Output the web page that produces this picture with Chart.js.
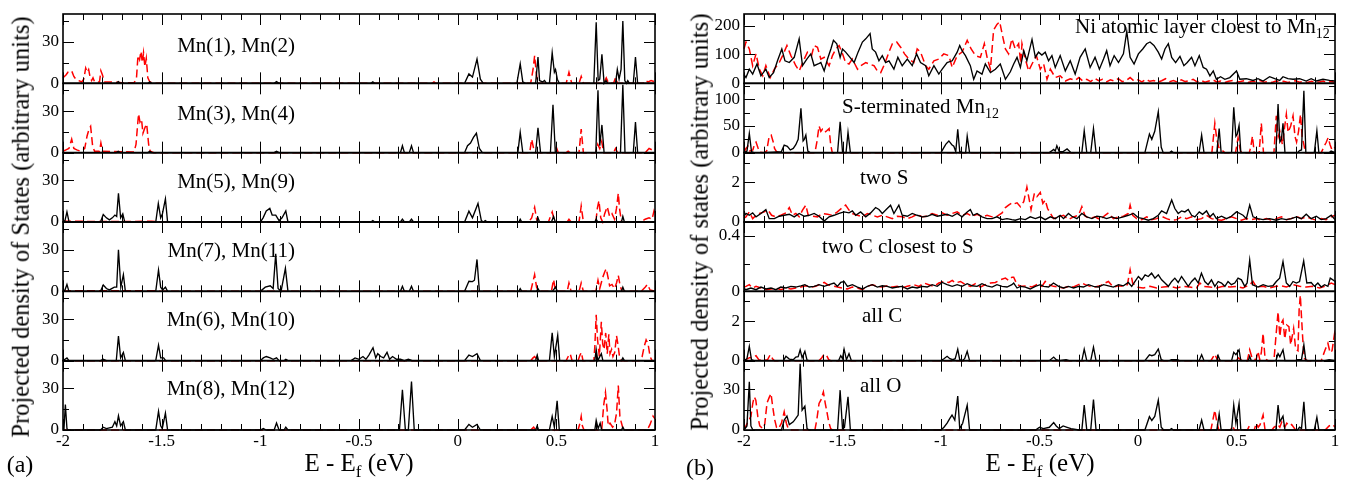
<!DOCTYPE html>
<html><head><meta charset="utf-8">
<script src="https://cdn.jsdelivr.net/npm/chart.js@4.4.1/dist/chart.umd.min.js"></script>
<style>
html,body{margin:0;padding:0;background:#fff}
body{width:1348px;height:480px;position:relative;overflow:hidden;font-family:'Liberation Serif','Tinos','Times New Roman','DejaVu Serif',serif;color:#000}
canvas{position:absolute;top:0}
#ca{left:0}
#cb{left:680px}
.t{position:absolute;white-space:nowrap;line-height:1;font-size:21px}
.t sub{font-size:14px;vertical-align:-5px;line-height:0}
.ra{transform:translate(-100%,-50%)}
.la{transform:translate(0,-50%)}
.ce{transform:translate(-50%,-50%)}
.rot{transform:translate(-50%,-50%) rotate(-90deg);font-size:24.5px}
.xt{font-size:25px}
.xt sub{font-size:17px;vertical-align:-6px}
</style></head><body>
<canvas id="ca" width="670" height="480"></canvas>
<canvas id="cb" width="668" height="480"></canvas>

<div class="t ra" style="left:295px;top:45px">Mn(1), Mn(2)</div>
<div class="t ra" style="left:295px;top:113px">Mn(3), Mn(4)</div>
<div class="t ra" style="left:295px;top:181px">Mn(5), Mn(9)</div>
<div class="t ra" style="left:295px;top:250px">Mn(7), Mn(11)</div>
<div class="t ra" style="left:295px;top:319px">Mn(6), Mn(10)</div>
<div class="t ra" style="left:295px;top:388px">Mn(8), Mn(12)</div>

<div class="t la" style="left:1075px;top:26px">Ni atomic layer cloest to Mn<sub>12</sub></div>
<div class="t la" style="left:842px;top:106px">S-terminated Mn<sub>12</sub></div>
<div class="t la" style="left:860px;top:177px">two S</div>
<div class="t la" style="left:822px;top:246px">two C closest to S</div>
<div class="t la" style="left:862px;top:315px">all C</div>
<div class="t la" style="left:860px;top:385px">all O</div>

<div class="t rot" style="left:21px;top:227px">Projected density of States (arbitrary units)</div>
<div class="t rot" style="left:700px;top:222px">Projected density of states (arbitrary units)</div>
<div class="t ce xt" style="left:359px;top:462px">E - E<sub>f</sub> (eV)</div>
<div class="t ce xt" style="left:1040px;top:462px">E - E<sub>f</sub> (eV)</div>
<div class="t ce" style="left:20px;top:464px;font-size:24px">(a)</div>
<div class="t ce" style="left:700px;top:467px;font-size:24px">(b)</div>

<script>
// ---------- tick labels ----------
const xTickLabels = [-2, -1.5, -1, -0.5, 0, 0.5, 1];
const mnTicksMajor = [0, 30], mnTicksMinor = [15, 45];
const niTicksMajor = [0, 100, 200], niTicksMinor = [50, 150];
const sTicksMajor = [0, 50, 100], sTicksMinor = [25, 75, 125];
const twoSTicksMajor = [0, 2], twoSTicksMinor = [1, 3];
const twoCTicksMajor = [0, 0.4], twoCTicksMinor = [0.2];
const allCTicksMajor = [0, 2], allCTicksMinor = [1, 3];
const allOTicksMajor = [0, 30], allOTicksMinor = [15, 45];

// ---------- panel (a) series: [E, PDOS] ----------
const a1Black = [[-2,0],[-1.73,0],[-1.72,1.2],[-1.71,0],[-1.57,0],[-1.56,1],[-1.55,0],[-0.93,0],[-0.918,1.2],[-0.905,0],[-0.44,0],[-0.43,1],[-0.42,0],
[0.035,0],[0.057,6.8],[0.075,4.5],[0.098,17.5],[0.115,3],[0.13,0],[0.30,0],[0.317,14],[0.33,1],[0.345,0],
[0.395,0],[0.407,19],[0.415,2],[0.43,1],[0.44,2],[0.45,0],[0.465,0],[0.479,22],[0.49,8],[0.496,10],[0.505,3],[0.515,0],
[0.69,0],[0.702,44],[0.712,2],[0.72,3],[0.731,21],[0.742,0],[0.752,2],[0.76,0],[0.80,0],[0.809,10],[0.818,3],[0.828,10],[0.837,45],[0.847,2],[0.855,0],[0.862,2],[0.87,0],
[0.89,0],[0.901,19],[0.912,0],[1,0]];
const a1Red = [[-2,4],[-1.985,6],[-1.975,8],[-1.956,9],[-1.945,5],[-1.935,3],[-1.92,2],[-1.905,1],[-1.895,3],[-1.885,11],[-1.877,8],[-1.87,10],[-1.862,4],[-1.855,2],[-1.848,4],[-1.84,1],[-1.815,1],[-1.808,9],[-1.8,6],[-1.79,1],[-1.75,1],[-1.70,0.5],[-1.64,0.5],[-1.628,3],[-1.62,20],[-1.612,17],[-1.605,23],[-1.598,15],[-1.592,22],[-1.585,12],[-1.578,18],[-1.57,4],[-1.56,1],[-1.53,0],[-0.13,0],[-0.12,1],[-0.11,0],
[0.37,0],[0.382,10],[0.39,20],[0.398,8],[0.405,0],[0.55,0],[0.564,8],[0.578,0],[0.615,0],[0.626,5],[0.637,0],[0.74,0],[0.753,4],[0.765,0],[0.79,0],[0.80,4],[0.81,0],[0.895,0],[0.905,2],[0.915,0],[0.94,0],[0.95,2],[0.965,1],[0.98,2],[1,1]];

const a2Black = [[-2,0],[-1.73,0],[-1.72,1],[-1.71,0],[-1.57,0],[-1.56,1],[-1.55,0],[-0.93,0],[-0.918,1],[-0.905,0],
[-0.29,0],[-0.28,5],[-0.27,0],[-0.245,0],[-0.234,5],[-0.224,0],
[0.035,0],[0.05,5],[0.065,7],[0.08,11],[0.095,14],[0.11,3],[0.125,0],
[0.305,0],[0.317,14.6],[0.33,0],[0.395,0],[0.407,18],[0.42,0],[0.47,0],[0.483,34.6],[0.495,0],
[0.70,0],[0.711,45],[0.72,5],[0.731,20],[0.742,0],[0.825,0],[0.837,49],[0.848,0],[0.89,0],[0.901,22],[0.912,0],[1,0]];
const a2Red = [[-2,1],[-1.985,2],[-1.97,3],[-1.956,9.7],[-1.945,3],[-1.93,2],[-1.91,1],[-1.89,3],[-1.878,12],[-1.868,17],[-1.86,19],[-1.85,5],[-1.84,1],[-1.815,1],[-1.808,7],[-1.8,1],[-1.64,0.5],[-1.63,6],[-1.622,20],[-1.617,28],[-1.61,22],[-1.602,24],[-1.595,14],[-1.585,18],[-1.576,20.7],[-1.566,6],[-1.558,1],[-1.54,0],
[0.365,0],[0.375,9.7],[0.385,3],[0.395,0],[0.49,0],[0.5,4],[0.51,0],[0.55,0],[0.56,1],[0.57,0],[0.615,0],[0.626,17],[0.637,0],[0.70,0],[0.71,6],[0.72,3],[0.73,8],[0.74,0],[0.79,0],[0.80,3],[0.81,0],[0.95,0],[0.97,3],[1,1]];

const a3Black = [[-2,0],[-1.99,1],[-1.98,7.3],[-1.97,0.5],[-1.96,0],[-1.81,0],[-1.796,5.4],[-1.78,3],[-1.765,1.5],[-1.75,3],[-1.737,5],[-1.728,4],[-1.719,20.7],[-1.708,3],[-1.697,5.8],[-1.688,0.5],[-1.678,0],
[-1.53,0],[-1.517,13.4],[-1.505,3],[-1.496,6],[-1.481,16.6],[-1.47,0],
[-1.0,0],[-0.986,3],[-0.97,8],[-0.952,9.8],[-0.94,5],[-0.922,5],[-0.905,1],[-0.89,3],[-0.871,8],[-0.86,0],
[-0.44,0],[-0.43,1],[-0.42,0],[-0.29,0],[-0.28,2],[-0.27,0],[-0.245,0],[-0.234,2],[-0.224,0],
[0.035,0],[0.057,7.8],[0.075,3],[0.103,13.4],[0.12,1],[0.13,0],[0.14,1],[0.15,0],
[0.31,0],[0.317,2],[0.325,0],[0.4,0],[0.407,3],[0.415,0],[0.475,0],[0.486,4],[0.495,0],[0.695,0],[0.702,2],[0.71,0],[0.83,0],[0.837,4],[0.845,0],[1,0]];
const a3Red = [[-2,0.5],[-1.9,0.5],[-1.85,0.3],[-1.55,0.5],[-1.5,0],[0.36,0],[0.375,3],[0.39,10.5],[0.40,2],[0.41,0],
[0.46,0],[0.47,4],[0.479,7.3],[0.49,1],[0.5,0],[0.555,0],[0.564,2],[0.575,0],[0.615,0],[0.626,11.5],[0.637,0],
[0.70,0],[0.708,10],[0.716,15.4],[0.725,3],[0.735,0],[0.745,6],[0.758,11],[0.77,4],[0.782,6],[0.795,2],[0.805,10],[0.814,20.7],[0.82,10],[0.83,0],
[0.93,0],[0.95,2],[0.97,3],[0.985,2],[0.995,8],[1,6]];

const a4Black = [[-2,0],[-1.99,1],[-1.98,5],[-1.97,0],
[-1.81,0],[-1.796,4.6],[-1.78,2],[-1.765,1],[-1.74,3],[-1.728,3],[-1.719,30],[-1.707,3],[-1.694,12],[-1.684,0],
[-1.53,0],[-1.516,15.4],[-1.505,3],[-1.495,1],[-1.481,3],[-1.47,0],
[-1.0,0],[-0.975,3],[-0.95,4],[-0.935,2],[-0.922,27],[-0.91,2],[-0.895,0],[-0.873,16.6],[-0.86,0],
[-0.29,0],[-0.28,3.6],[-0.27,0],[-0.245,0],[-0.234,3.6],[-0.224,0],
[0.035,0],[0.057,7.3],[0.075,7],[0.085,8],[0.098,23],[0.11,0],
[0.31,0],[0.317,2],[0.325,0],[0.4,0],[0.407,2],[0.415,0],[0.48,0],[0.496,3],[0.505,0],[0.83,0],[0.837,3],[0.845,0],[1,0]];
const a4Red = [[-2,0],[-1.96,0.5],[-1.90,0.5],[-1.6,0.5],[-1.55,0.5],[-1.5,0],
[0.37,0],[0.39,12],[0.40,3],[0.41,0],[0.475,0],[0.486,8.5],[0.495,1],[0.505,0],
[0.555,0],[0.564,6],[0.575,0],[0.615,0],[0.626,6],[0.637,0],
[0.70,0],[0.711,8],[0.72,2],[0.735,10],[0.745,14],[0.753,16.3],[0.762,10],[0.77,4],[0.782,5],[0.795,2],[0.805,6],[0.814,11.5],[0.822,5],[0.832,0],
[0.93,0],[0.95,3],[0.962,5],[0.975,1],[1,0]];

const a5Black = [[-2,0],[-1.99,1],[-1.98,2],[-1.97,0],
[-1.81,0],[-1.796,1],[-1.78,0],[-1.73,0],[-1.719,17.8],[-1.708,2],[-1.694,6],[-1.684,0],
[-1.53,0],[-1.516,11.2],[-1.505,2],[-1.49,2],[-1.48,0],
[-1.0,0],[-0.985,2],[-0.97,3],[-0.95,2],[-0.935,1],[-0.918,2],[-0.905,0],[-0.88,0],[-0.871,1],[-0.86,0],
[-0.54,0],[-0.52,2],[-0.5,1],[-0.48,3],[-0.465,1],[-0.45,4],[-0.429,9.3],[-0.415,2],[-0.405,5],[-0.39,3],[-0.375,2],[-0.358,6],[-0.345,1],[-0.33,3],[-0.31,1],[-0.29,1],[-0.27,0],[-0.25,1],[-0.23,0],
[0.035,0],[0.057,4],[0.075,3],[0.098,5],[0.115,0],
[0.395,0],[0.403,4],[0.41,0],[0.465,0],[0.479,20],[0.49,3],[0.507,18.3],[0.517,0],
[0.695,0],[0.702,8],[0.71,0],[0.728,5],[0.736,0],[0.83,0],[0.837,2],[0.845,0],[1,0]];
const a5Red = [[-2,0],[0.37,0],[0.382,2],[0.39,3],[0.40,1],[0.41,0],[0.55,0],[0.56,3],[0.57,5],[0.58,0],
[0.61,0],[0.62,4],[0.627,6],[0.635,0],[0.69,0],[0.695,10],[0.702,33],[0.709,15],[0.718,3],[0.728,28],[0.735,12],[0.742,8],[0.75,20],[0.758,5],[0.766,19],[0.772,5],[0.78,8],[0.787,3],[0.796,6],[0.805,18],[0.812,12],[0.82,3],[0.828,0],
[0.92,0],[0.935,3],[0.945,10],[0.955,15],[0.965,12],[0.975,3],[0.985,0],[1,0]];

const a6Black = [[-2,0],[-1.995,1],[-1.988,18.3],[-1.98,1],[-1.975,0],
[-1.81,0],[-1.796,2],[-1.78,1],[-1.75,2],[-1.737,6],[-1.728,3],[-1.719,10.2],[-1.708,3],[-1.694,6],[-1.684,0],
[-1.53,0],[-1.516,13.4],[-1.505,3],[-1.497,1],[-1.481,12.2],[-1.47,0],
[-1.0,0],[-0.985,1],[-0.97,0],[-0.93,0],[-0.918,5],[-0.905,0],[-0.88,0],[-0.871,2],[-0.86,0],
[-0.295,0],[-0.28,29],[-0.265,0],[-0.25,0],[-0.234,35],[-0.22,0],
[0.035,0],[0.057,4],[0.075,2],[0.098,4],[0.115,0],
[0.395,0],[0.403,3],[0.41,0],[0.465,0],[0.479,9.8],[0.49,2],[0.504,21],[0.515,0],
[0.695,0],[0.702,7],[0.712,1],[0.722,5],[0.73,0],[0.83,0],[0.837,2],[0.845,0],[1,0]];
const a6Red = [[-2,0],[0.37,0],[0.385,2],[0.395,0],[0.61,0],[0.62,5],[0.626,9.8],[0.632,3],[0.64,0],
[0.73,0],[0.74,18],[0.749,27],[0.757,15],[0.763,3],[0.772,5],[0.785,2],[0.795,4],[0.805,12],[0.814,32],[0.822,10],[0.83,5],[0.84,0],
[0.96,0],[0.975,4],[0.99,10],[1,8]];

// ---------- panel (b) series ----------
const b1Black = [[-2,30],[-1.990,20],[-1.973,49],[-1.956,32],[-1.934,67],[-1.914,26],[-1.889,49],[-1.872,20],[-1.850,37],[-1.830,78],[-1.808,119],[-1.792,78],[-1.770,72],[-1.745,90],[-1.720,154],[-1.703,61],[-1.681,84],[-1.661,102],[-1.644,61],[-1.624,67],[-1.610,72],[-1.593,43],[-1.576,84],[-1.559,119],[-1.546,149],[-1.529,137],[-1.512,90],[-1.500,119],[-1.484,108],[-1.462,90],[-1.441,72],[-1.421,108],[-1.399,143],[-1.382,154],[-1.360,172],[-1.349,119],[-1.332,108],[-1.315,78],[-1.298,96],[-1.281,72],[-1.264,78],[-1.239,49],[-1.219,90],[-1.197,61],[-1.171,84],[-1.146,61],[-1.124,102],[-1.104,72],[-1.078,61],[-1.062,26],[-1.036,61],[-1.011,32],[-0.994,49],[-0.969,72],[-0.943,78],[-0.918,108],[-0.905,131],[-0.893,113],[-0.876,96],[-0.851,61],[-0.834,14],[-0.817,43],[-0.792,32],[-0.775,67],[-0.749,37],[-0.724,49],[-0.699,67],[-0.673,14],[-0.648,40],
[-0.631,67],[-0.614,90],[-0.597,55],[-0.580,113],[-0.564,78],[-0.538,152],[-0.521,90],[-0.505,108],[-0.488,98],[-0.471,108],[-0.454,78],[-0.437,96],[-0.420,55],[-0.395,96],[-0.369,43],[-0.344,78],[-0.319,32],[-0.294,90],[-0.268,119],[-0.243,55],[-0.218,90],[-0.196,49],[-0.175,84],[-0.159,113],[-0.142,61],[-0.121,96],[-0.099,72],[-0.074,102],[-0.057,180],[-0.040,90],[-0.020,67],[0.002,102],[0.024,119],[0.044,137],[0.061,143],[0.081,131],[0.103,108],[0.120,84],[0.137,119],[0.154,137],[0.171,90],[0.191,72],[0.213,93],[0.233,61],[0.250,72],[0.272,90],[0.289,61],[0.311,96],[0.331,55],[0.348,49],[0.365,26],[0.382,43],[0.398,14],[0.419,23],[0.441,14],[0.466,20],[0.500,43],[0.517,14],[0.550,16],[0.584,10],[0.609,16],[0.635,8],[0.668,23],[0.694,16],[0.719,10],[0.736,23],[0.761,16],[0.787,14],[0.820,16],[0.854,8],[0.879,16],[0.905,8],[0.939,14],[0.972,10],[1,8]];
const b1Red = [[-2,120],[-1.990,143],[-1.973,119],[-1.956,61],[-1.939,102],[-1.922,49],[-1.905,26],[-1.889,61],[-1.867,20],[-1.846,49],[-1.821,72],[-1.804,96],[-1.782,131],[-1.762,96],[-1.737,61],[-1.720,43],[-1.698,78],[-1.678,108],[-1.657,96],[-1.644,131],[-1.627,125],[-1.610,84],[-1.593,90],[-1.568,61],[-1.551,96],[-1.534,119],[-1.517,131],[-1.500,102],[-1.484,72],[-1.467,67],[-1.450,84],[-1.424,49],[-1.408,61],[-1.382,72],[-1.365,67],[-1.340,61],[-1.323,43],[-1.306,37],[-1.286,67],[-1.264,108],[-1.247,137],[-1.225,143],[-1.205,125],[-1.185,102],[-1.163,84],[-1.138,72],[-1.121,119],[-1.104,108],[-1.078,61],[-1.062,49],[-1.036,78],[-1.011,84],[-0.986,102],[-0.960,96],[-0.943,55],[-0.918,96],[-0.893,108],[-0.867,149],[-0.847,119],[-0.825,96],[-0.800,90],[-0.780,137],[-0.766,90],[-0.749,49],[-0.733,184],[-0.716,204],[-0.702,213],[-0.690,172],[-0.673,119],[-0.657,102],[-0.640,154],[-0.623,119],[-0.606,137],
[-0.595,70],[-0.589,137],[-0.572,84],[-0.555,43],[-0.538,67],[-0.516,96],[-0.496,49],[-0.479,67],[-0.462,14],[-0.445,49],[-0.420,20],[-0.395,26],[-0.369,8],[-0.344,16],[-0.32,10],[-0.3,20],[-0.28,8],[-0.26,14],[-0.24,6],[-0.22,18],[-0.2,9],[-0.18,14],[-0.16,5],[-0.14,12],[-0.12,8],[-0.1,16],[-0.08,6],[-0.06,10],[-0.04,20],[-0.02,8],[0,12],[0.02,5],[0.04,14],[0.06,7],[0.08,10],[0.1,4],[0.12,9],[0.14,16],[0.16,6],[0.18,10],[0.2,4],[0.22,12],[0.24,6],[0.26,9],[0.28,14],[0.3,5],[0.32,10],[0.34,4],[0.36,8],[0.38,12],[0.4,5],[0.42,8],[0.44,3],[0.46,7],[0.48,10],[0.5,4],[0.52,6],[0.54,9],[0.56,3],[0.58,7],[0.6,5],[0.62,10],[0.64,4],[0.66,6],[0.68,3],[0.7,8],[0.72,5],[0.74,7],[0.76,3],[0.78,6],[0.8,9],[0.82,4],[0.84,6],[0.86,3],[0.88,7],[0.9,4],[0.92,5],[0.94,8],[0.96,3],[0.98,6],[1,4]];

const b2Black = [[-2,0],[-1.985,3],[-1.973,36],[-1.962,2],[-1.95,0],[-1.90,0],[-1.85,1],[-1.81,2],[-1.796,14],[-1.78,12],[-1.765,5],[-1.75,8],[-1.737,15],[-1.725,25],[-1.711,83],[-1.70,22],[-1.694,25],[-1.686,33],[-1.676,3],[-1.665,0],
[-1.525,0],[-1.512,58],[-1.5,2],[-1.49,0],[-1.482,0],[-1.472,38],[-1.46,0],
[-1.0,0],[-0.985,10],[-0.975,16],[-0.96,22],[-0.945,15],[-0.935,12],[-0.925,2],[-0.915,44],[-0.905,2],[-0.89,0],[-0.875,0],[-0.867,31],[-0.855,0],
[-0.45,0],[-0.428,6],[-0.42,3],[-0.412,13],[-0.40,2],[-0.38,2],[-0.36,7],[-0.34,0],
[-0.285,0],[-0.273,41],[-0.26,0],[-0.24,0],[-0.226,45],[-0.213,0],
[0.035,0],[0.058,35],[0.07,25],[0.085,40],[0.103,77],[0.118,10],[0.128,0],[0.16,0],[0.17,3],[0.18,0],
[0.31,0],[0.323,33],[0.335,0],[0.40,0],[0.412,45],[0.422,0],[0.475,0],[0.486,85],[0.497,31],[0.504,35],[0.513,51],[0.522,0],
[0.70,0],[0.711,91],[0.72,20],[0.728,25],[0.736,55],[0.746,0],[0.81,0],[0.82,4],[0.83,5],[0.842,116],[0.852,0],[0.895,0],[0.908,41],[0.918,0],[0.97,0],[0.98,3],[1,0]];
const b2Red = [[-2,0],[-1.99,8],[-1.98,12],[-1.97,3],[-1.955,5],[-1.945,18],[-1.939,20],[-1.93,10],[-1.92,1],[-1.9,0],[-1.885,3],[-1.872,31],[-1.862,33],[-1.85,18],[-1.845,8],[-1.835,2],[-1.82,0],
[-1.64,0],[-1.63,20],[-1.619,50],[-1.61,40],[-1.602,44],[-1.59,38],[-1.58,41],[-1.568,45],[-1.56,15],[-1.552,0],
[0.375,0],[0.39,55],[0.40,25],[0.41,10],[0.425,5],[0.44,0],[0.495,0],[0.508,28],[0.52,3],[0.53,0],[0.565,0],[0.572,10],[0.581,31],[0.59,0],[0.615,0],[0.626,55],[0.637,0],
[0.69,0],[0.702,69],[0.712,30],[0.72,40],[0.733,15],[0.745,50],[0.753,72],[0.762,38],[0.775,50],[0.787,69],[0.797,30],[0.805,20],[0.815,40],[0.825,72],[0.833,30],[0.842,15],[0.85,0],
[0.93,0],[0.945,12],[0.955,19],[0.965,28],[0.975,15],[0.985,5],[1,10]];

const b3Black = [[-2,0.3],[-1.990,0.43],[-1.973,0.34],[-1.956,0.46],[-1.939,0.26],[-1.914,0.43],[-1.889,0.63],[-1.872,0.17],[-1.846,0.17],[-1.821,0.29],[-1.796,0.34],[-1.770,0.39],[-1.745,0.26],[-1.720,0.43],[-1.694,0.29],[-1.669,0.34],[-1.644,0.43],[-1.619,0.29],[-1.593,0.05],[-1.568,0.26],[-1.543,0.34],[-1.517,0.43],[-1.492,0.51],[-1.467,0.46],[-1.450,0.56],[-1.433,0.34],[-1.408,0.51],[-1.382,0.26],[-1.357,0.46],[-1.332,0.73],[-1.315,0.63],[-1.298,0.43],[-1.273,0.68],[-1.256,0.85],[-1.239,0.43],[-1.214,0.85],[-1.197,0.34],[-1.171,0.29],[-1.146,0.43],[-1.121,0.34],[-1.095,0.26],[-1.070,0.29],[-1.045,0.39],[-1.019,0.29],[-0.994,0.34],[-0.969,0.39],[-0.943,0.29],[-0.918,0.43],[-0.893,0.26],[-0.867,0.51],[-0.851,0.63],[-0.837,0.34],[-0.817,0.43],[-0.792,0.26],[-0.766,0.17],[-0.741,0.17],[-0.716,0.26],[-0.690,0.12],[-0.665,0.17],[-0.640,0.12],
[-0.623,0.09],[-0.597,0.17],[-0.572,0.12],[-0.547,0.26],[-0.521,0.17],[-0.496,0.26],[-0.471,0.12],[-0.445,0.26],[-0.420,0.17],[-0.395,0.34],[-0.378,0.17],[-0.353,0.43],[-0.336,0.29],[-0.310,0.17],[-0.285,0.43],[-0.260,0.26],[-0.234,0.17],[-0.209,0.29],[-0.184,0.26],[-0.159,0.17],[-0.133,0.26],[-0.108,0.17],[-0.074,0.26],[-0.049,0.34],[-0.023,0.43],[0.002,0.22],[0.027,0.17],[0.052,0.09],[0.078,0.17],[0.103,0.34],[0.120,0.56],[0.145,0.43],[0.171,1.11],[0.187,0.68],[0.204,0.43],[0.221,0.56],[0.238,0.51],[0.255,0.63],[0.272,0.34],[0.289,0.26],[0.311,0.51],[0.328,0.39],[0.348,0.56],[0.365,0.26],[0.382,0.43],[0.398,0.17],[0.424,0.29],[0.449,0.17],[0.474,0.29],[0.500,0.51],[0.517,0.43],[0.533,0.34],[0.550,0.17],[0.567,0.85],[0.584,0.26],[0.609,0.17],[0.635,0.12],[0.668,0.17],[0.702,0.09],[0.728,0.17],[0.753,0.12],[0.778,0.17],[0.804,0.26],[0.829,0.17],[0.854,0.39],[0.879,0.17],[0.905,0.29],[0.930,0.12],[0.955,0.17],[0.981,0.34],[1,0.12]];
const b3Red = [[-2,0.2],[-1.990,0.26],[-1.973,0.51],[-1.956,0.17],[-1.939,0.34],[-1.922,0.43],[-1.897,0.51],[-1.880,0.63],[-1.860,0.34],[-1.838,0.26],[-1.813,0.34],[-1.787,0.46],[-1.770,0.73],[-1.754,0.34],[-1.737,0.43],[-1.720,0.26],[-1.703,0.60],[-1.686,0.85],[-1.674,0.34],[-1.652,0.29],[-1.627,0.26],[-1.602,0.43],[-1.576,0.39],[-1.551,0.34],[-1.526,0.51],[-1.500,0.73],[-1.484,0.85],[-1.467,0.60],[-1.450,0.43],[-1.424,0.34],[-1.399,0.26],[-1.374,0.43],[-1.349,0.34],[-1.323,0.26],[-1.298,0.34],[-1.273,0.26],[-1.247,0.17],[-1.222,0.29],[-1.197,0.26],[-1.171,0.17],[-1.146,0.26],[-1.121,0.39],[-1.095,0.26],[-1.070,0.29],[-1.045,0.43],[-1.019,0.34],[-0.994,0.46],[-0.969,0.34],[-0.943,0.43],[-0.918,0.51],[-0.893,0.34],[-0.867,0.43],[-0.842,0.29],[-0.817,0.39],[-0.792,0.26],[-0.766,0.34],[-0.741,0.26],[-0.716,0.29],[-0.690,0.46],[-0.673,0.73],[-0.657,0.85],[-0.640,0.97],
[-0.631,0.91],[-0.614,0.97],[-0.597,0.77],[-0.580,1.03],[-0.564,1.76],[-0.555,1.28],[-0.543,0.63],[-0.526,1.45],[-0.513,1.28],[-0.496,1.49],[-0.483,0.94],[-0.471,1.11],[-0.459,0.68],[-0.449,0.51],[-0.429,0.17],[-0.403,0.26],[-0.378,0.34],[-0.353,0.12],[-0.327,0.26],[-0.302,0.34],[-0.285,0.77],[-0.268,0.29],[-0.243,0.17],[-0.218,0.26],[-0.192,0.12],[-0.167,0.34],[-0.150,0.46],[-0.125,0.17],[-0.099,0.26],[-0.074,0.29],[-0.049,0.43],[-0.040,0.85],[-0.027,0.34],[-0.007,0.17],[0.019,0.12],[0.044,0.26],[0.069,0.12],[0.095,0.17],[0.120,0.29],[0.145,0.17],[0.171,0.09],[0.196,0.12],[0.221,0.26],[0.247,0.17],[0.272,0.26],[0.297,0.12],[0.323,0.17],[0.348,0.34],[0.373,0.17],[0.398,0.12],[0.424,0.09],[0.449,0.17],[0.474,0.26],[0.500,0.17],[0.525,0.09],[0.550,0.17],[0.576,0.12],[0.601,0.17],[0.626,0.09],[0.652,0.17],[0.677,0.09],[0.702,0.17],[0.728,0.26],[0.753,0.12],[0.778,0.17],[0.804,0.29],[0.829,0.17],[0.854,0.26],[0.879,0.17],[0.905,0.09],[0.930,0.17],[0.955,0.12],[0.981,0.26],[1,0.34]];

const b4Black = [[-2,0.02],[-1.990,0.012],[-1.965,0.024],[-1.939,0.012],[-1.914,0.031],[-1.889,0.017],[-1.863,0.024],[-1.838,0.012],[-1.813,0.031],[-1.787,0.024],[-1.762,0.036],[-1.737,0.031],[-1.711,0.040],[-1.691,0.048],[-1.669,0.031],[-1.644,0.036],[-1.619,0.048],[-1.593,0.036],[-1.568,0.048],[-1.543,0.060],[-1.526,0.036],[-1.509,0.064],[-1.492,0.071],[-1.475,0.036],[-1.450,0.048],[-1.424,0.031],[-1.399,0.017],[-1.374,0.036],[-1.349,0.048],[-1.323,0.031],[-1.298,0.040],[-1.273,0.036],[-1.247,0.024],[-1.222,0.031],[-1.197,0.036],[-1.171,0.017],[-1.146,0.031],[-1.121,0.024],[-1.095,0.036],[-1.070,0.031],[-1.045,0.048],[-1.019,0.036],[-0.994,0.064],[-0.969,0.048],[-0.943,0.036],[-0.918,0.048],[-0.893,0.036],[-0.867,0.055],[-0.842,0.040],[-0.817,0.036],[-0.792,0.055],[-0.766,0.040],[-0.741,0.031],[-0.716,0.048],[-0.690,0.036],[-0.665,0.031],[-0.640,0.048],
[-0.631,0.060],[-0.614,0.024],[-0.597,0.036],[-0.572,0.031],[-0.547,0.017],[-0.521,0.036],[-0.496,0.048],[-0.479,0.036],[-0.454,0.031],[-0.429,0.060],[-0.403,0.036],[-0.378,0.024],[-0.353,0.036],[-0.327,0.024],[-0.302,0.036],[-0.277,0.031],[-0.251,0.048],[-0.226,0.036],[-0.201,0.031],[-0.175,0.048],[-0.150,0.040],[-0.125,0.031],[-0.099,0.048],[-0.074,0.040],[-0.049,0.064],[-0.032,0.036],[-0.015,0.071],[0.002,0.107],[0.019,0.083],[0.036,0.119],[0.052,0.107],[0.069,0.131],[0.086,0.095],[0.103,0.119],[0.120,0.083],[0.137,0.060],[0.154,0.036],[0.171,0.071],[0.187,0.095],[0.204,0.064],[0.221,0.107],[0.238,0.071],[0.255,0.036],[0.272,0.071],[0.289,0.095],[0.306,0.060],[0.322,0.131],[0.339,0.071],[0.356,0.048],[0.373,0.083],[0.390,0.036],[0.407,0.071],[0.424,0.060],[0.441,0.036],[0.457,0.071],[0.474,0.048],[0.491,0.060],[0.508,0.095],[0.525,0.083],[0.542,0.036],[0.554,0.060],[0.567,0.226],[0.581,0.048],[0.609,0.031],[0.635,0.048],[0.660,0.036],[0.685,0.040],[0.702,0.071],[0.719,0.095],[0.736,0.214],[0.753,0.060],[0.770,0.036],[0.787,0.071],[0.804,0.060],[0.820,0.071],[0.841,0.219],[0.857,0.060],[0.879,0.064],[0.896,0.036],[0.913,0.060],[0.930,0.031],[0.947,0.048],[0.964,0.036],[0.976,0.095],[0.989,0.083],[1,0.071]];
const b4Red = [[-2,0.03],[-1.990,0.036],[-1.973,0.048],[-1.956,0.024],[-1.939,0.036],[-1.914,0.024],[-1.889,0.012],[-1.863,0.017],[-1.838,0.024],[-1.813,0.012],[-1.787,0.024],[-1.762,0.017],[-1.737,0.024],[-1.711,0.031],[-1.686,0.040],[-1.661,0.031],[-1.636,0.036],[-1.610,0.055],[-1.593,0.064],[-1.576,0.048],[-1.551,0.040],[-1.526,0.031],[-1.500,0.024],[-1.475,0.017],[-1.450,0.031],[-1.424,0.024],[-1.399,0.012],[-1.374,0.036],[-1.349,0.048],[-1.323,0.036],[-1.298,0.031],[-1.273,0.040],[-1.247,0.031],[-1.222,0.036],[-1.197,0.024],[-1.171,0.036],[-1.138,0.048],[-1.112,0.036],[-1.087,0.060],[-1.062,0.048],[-1.036,0.036],[-1.011,0.060],[-0.986,0.071],[-0.960,0.064],[-0.943,0.079],[-0.927,0.060],[-0.901,0.071],[-0.876,0.048],[-0.851,0.036],[-0.825,0.055],[-0.800,0.031],[-0.775,0.048],[-0.749,0.060],[-0.724,0.064],[-0.699,0.083],[-0.673,0.095],[-0.657,0.079],[-0.640,0.102],
[-0.631,0.102],[-0.614,0.048],[-0.589,0.036],[-0.564,0.040],[-0.538,0.031],[-0.513,0.048],[-0.488,0.036],[-0.471,0.071],[-0.454,0.048],[-0.429,0.036],[-0.403,0.031],[-0.378,0.024],[-0.353,0.036],[-0.327,0.031],[-0.302,0.048],[-0.285,0.060],[-0.268,0.048],[-0.243,0.036],[-0.218,0.031],[-0.192,0.040],[-0.167,0.060],[-0.150,0.071],[-0.125,0.031],[-0.099,0.040],[-0.074,0.036],[-0.054,0.048],[-0.040,0.155],[-0.027,0.060],[-0.007,0.031],[0.027,0.024],[0.061,0.036],[0.095,0.024],[0.128,0.031],[0.162,0.036],[0.196,0.024],[0.230,0.036],[0.263,0.031],[0.297,0.024],[0.314,0.060],[0.331,0.036],[0.365,0.031],[0.398,0.024],[0.432,0.036],[0.466,0.031],[0.500,0.036],[0.533,0.024],[0.567,0.048],[0.584,0.071],[0.601,0.031],[0.635,0.036],[0.668,0.024],[0.702,0.036],[0.728,0.040],[0.753,0.031],[0.787,0.048],[0.820,0.036],[0.854,0.031],[0.888,0.036],[0.922,0.024],[0.955,0.040],[0.981,0.060],[1,0.048]];

const b5Black = [[-2,0],[-1.985,0.1],[-1.973,0.72],[-1.962,0.05],[-1.95,0],[-1.80,0],[-1.787,0.22],[-1.77,0.08],[-1.75,0.05],[-1.737,0.18],[-1.725,0.2],[-1.715,0.55],[-1.705,0.15],[-1.691,0.47],[-1.68,0.02],[-1.67,0],
[-1.52,0],[-1.509,0.25],[-1.5,0.1],[-1.492,0.58],[-1.48,0.05],[-1.467,0.35],[-1.455,0],
[-1.0,0],[-0.985,0.1],[-0.969,0.22],[-0.955,0.1],[-0.94,0.05],[-0.928,0.1],[-0.915,0.58],[-0.905,0.05],[-0.893,0],[-0.88,0.1],[-0.867,0.47],[-0.855,0],
[-0.45,0],[-0.428,0.18],[-0.415,0.05],[-0.4,0],[-0.365,0.05],[-0.35,0],
[-0.285,0],[-0.273,0.58],[-0.26,0],[-0.24,0],[-0.226,0.68],[-0.213,0],
[0.035,0],[0.058,0.3],[0.07,0.25],[0.085,0.3],[0.103,0.58],[0.118,0.05],[0.13,0],[0.16,0],[0.17,0.05],[0.2,0.05],[0.21,0],
[0.31,0],[0.323,0.3],[0.335,0],[0.40,0],[0.407,0.25],[0.415,0.05],[0.42,0],[0.475,0],[0.486,0.42],[0.497,0.3],[0.513,0.55],[0.522,0],[0.56,0],[0.567,0.22],[0.575,0],
[0.70,0],[0.711,0.35],[0.72,0.2],[0.736,0.55],[0.746,0],[0.80,0],[0.81,0.05],[0.83,0.05],[0.842,0.8],[0.852,0],[0.95,0],[0.97,0.05],[1,0]];
const b5Red = [[-2,0],[-1.99,0.05],[-1.972,0.15],[-1.955,0.18],[-1.939,0.25],[-1.925,0.05],[-1.91,0],[-1.88,0.05],[-1.867,0.3],[-1.855,0.1],[-1.845,0],
[-1.62,0],[-1.605,0.15],[-1.593,0.33],[-1.58,0.25],[-1.57,0.05],[-1.56,0],
[0.37,0],[0.39,0.33],[0.40,0.1],[0.41,0],[0.5,0],[0.508,0.15],[0.52,0.05],[0.53,0],[0.555,0],[0.567,0.55],[0.58,0.1],[0.6,0.05],[0.609,0.47],[0.618,0.05],[0.626,0.4],[0.635,1.38],[0.645,0.1],[0.66,0],
[0.69,0],[0.7,1.2],[0.711,2.47],[0.72,1.22],[0.728,1.9],[0.736,2.05],[0.745,1.1],[0.755,1.8],[0.766,1.72],[0.775,0.8],[0.79,1.63],[0.80,0.6],[0.812,0.5],[0.818,2.6],[0.824,3.3],[0.83,2.2],[0.838,0.8],[0.845,0.1],[0.86,0],
[0.93,0],[0.95,0.55],[0.964,0.88],[0.975,0.4],[0.985,0.5],[0.998,1.38],[1,1.3]];

const b6Black = [[-2,0],[-1.985,3],[-1.973,35.4],[-1.965,3],[-1.955,0],[-1.81,0],[-1.796,7.3],[-1.782,10.2],[-1.77,4],[-1.75,6],[-1.737,8.5],[-1.725,11],[-1.715,48.8],[-1.705,14.6],[-1.691,17.6],[-1.68,1],[-1.67,0],
[-1.525,0],[-1.512,29.3],[-1.5,1],[-1.49,2],[-1.472,24.4],[-1.46,0],
[-1.0,0],[-0.985,2],[-0.969,5],[-0.955,8.5],[-0.944,11],[-0.93,7.3],[-0.915,24.9],[-0.905,1],[-0.89,5],[-0.867,18.3],[-0.855,0],
[-0.52,0],[-0.5,2],[-0.48,1],[-0.45,2],[-0.428,5.4],[-0.415,3],[-0.4,1],[-0.38,3],[-0.36,2],[-0.34,1],[-0.3,0],
[-0.285,0],[-0.273,18.3],[-0.26,0],[-0.24,0],[-0.226,22.4],[-0.213,0],
[0.035,0],[0.058,9.8],[0.07,7],[0.085,10],[0.103,21.9],[0.118,2],[0.13,0],[0.16,0],[0.17,1],[0.18,0],
[0.31,0],[0.323,7.3],[0.335,0],[0.40,0],[0.412,11.7],[0.422,0],[0.475,0],[0.486,18.3],[0.497,5],[0.513,19.5],[0.522,0],
[0.70,0],[0.711,18.3],[0.72,6],[0.736,10.2],[0.746,0],[0.81,0],[0.82,2],[0.83,1],[0.842,20.7],[0.852,0],[0.895,0],[0.908,9.3],[0.918,0],[1,0]];
const b6Red = [[-2,0],[-1.99,3],[-1.98,6],[-1.965,10],[-1.955,20],[-1.948,24.4],[-1.94,22],[-1.93,10],[-1.92,3],[-1.905,1],[-1.895,4],[-1.883,20],[-1.872,24],[-1.863,26.8],[-1.855,18],[-1.845,8],[-1.835,2],[-1.825,1],[-1.81,5],[-1.796,13.4],[-1.785,5],[-1.775,1],[-1.76,0],
[-1.64,0],[-1.63,8],[-1.619,19.5],[-1.61,22],[-1.597,28],[-1.588,20],[-1.58,14],[-1.57,6],[-1.56,1],[-1.55,0],
[0.37,0],[0.39,14.6],[0.40,6],[0.41,0],[0.47,0],[0.48,3],[0.49,0],[0.555,0],[0.565,3],[0.575,0],[0.59,0],[0.6,5],[0.61,2],[0.62,4],[0.635,11],[0.645,0],
[0.68,0],[0.69,2],[0.71,4],[0.72,2],[0.73,6],[0.745,2],[0.755,5],[0.77,3],[0.78,4],[0.8,0],[0.95,0],[0.97,3],[0.99,4],[1,2]];

// ---------- chart building ----------
const FONT = "'Liberation Serif', 'Tinos', 'Times New Roman', 'DejaVu Serif', serif";
const RED = '#ff0000';

function series(points, yId, red) {
  return {
    data: points.map(p => ({x: p[0], y: p[1]})),
    yAxisID: yId,
    borderColor: red ? RED : '#000',
    borderWidth: red ? 1.5 : 1.35,
    borderDash: red ? [8, 4] : [],
    pointRadius: 0, tension: 0, fill: false, clip: 2
  };
}

function makeChart(canvasId, panels, yWidth, rightPad) {
  const scales = {
    x: {
      type: 'linear', min: -2, max: 1,
      grid: {display: false, drawTicks: false}, border: {display: false},
      afterBuildTicks: s => { s.ticks = xTickLabels.map(v => ({value: v})); },
      afterFit: s => { s.height = 50; s.paddingLeft = 0; s.paddingRight = 0; },
      ticks: {autoSkip: false, maxRotation: 0, padding: 1, color: '#000',
        font: {family: FONT, size: 17},
        callback: v => String(Math.round(v * 10) / 10)}
    }
  };
  const datasets = [];
  panels.forEach((p, i) => {
    scales[p.id] = {
      type: 'linear', position: 'left', stack: 'pdos', stackWeight: 1,
      weight: panels.length - i, min: 0, max: p.max,
      grid: {display: false, drawTicks: false}, border: {display: false},
      afterBuildTicks: s => { s.ticks = p.major.map(v => ({value: v})); },
      afterFit: s => { s.width = yWidth; s.paddingTop = 0; s.paddingBottom = 0; },
      ticks: {autoSkip: false, padding: 4, color: '#000',
        font: {family: FONT, size: 17}, callback: v => String(v)}
    };
  });
  panels.forEach(p => datasets.push(series(p.black, p.id, false)));
  panels.forEach(p => datasets.push(series(p.red, p.id, true)));

  const framePlugin = {
    id: 'frame_' + canvasId,
    afterDatasetsDraw(chart) {
      const ctx = chart.ctx, a = chart.chartArea, xs = chart.scales.x;
      ctx.save();
      ctx.strokeStyle = '#000';
      const line = (x1, y1, x2, y2) => { ctx.beginPath(); ctx.moveTo(x1, y1); ctx.lineTo(x2, y2); ctx.stroke(); };
      panels.forEach(p => {
        const s = chart.scales[p.id];
        ctx.lineWidth = 1;
        const yt = p.major.map(v => [v, 11]).concat(p.minor.map(v => [v, 6]));
        yt.forEach(([v, len]) => {
          const y = Math.round(s.getPixelForValue(v)) + 0.5;
          line(a.left, y, a.left + len, y);
          line(a.right, y, a.right - len, y);
        });
        for (let i = -20; i <= 10; i++) {
          const x = Math.round(xs.getPixelForValue(i / 10)) + 0.5;
          const len = (i % 5 === 0) ? 11 : 6;
          line(x, s.top, x, s.top + len);
          line(x, s.bottom, x, s.bottom - len);
        }
        ctx.lineWidth = 1.6;
        ctx.strokeRect(a.left, s.top, a.right - a.left, s.bottom - s.top);
      });
      ctx.restore();
    }
  };

  return new Chart(document.getElementById(canvasId), {
    type: 'line',
    data: {datasets},
    options: {
      responsive: false, animation: false, devicePixelRatio: 1,
      layout: {padding: {left: 0, right: rightPad, top: 14, bottom: 0}},
      plugins: {legend: {display: false}, tooltip: {enabled: false}},
      events: [],
      scales
    },
    plugins: [framePlugin]
  });
}

function build() {
  makeChart('ca', [
    {id: 'y1', max: 50, major: mnTicksMajor, minor: mnTicksMinor, black: a1Black, red: a1Red},
    {id: 'y2', max: 50, major: mnTicksMajor, minor: mnTicksMinor, black: a2Black, red: a2Red},
    {id: 'y3', max: 50, major: mnTicksMajor, minor: mnTicksMinor, black: a3Black, red: a3Red},
    {id: 'y4', max: 50, major: mnTicksMajor, minor: mnTicksMinor, black: a4Black, red: a4Red},
    {id: 'y5', max: 50, major: mnTicksMajor, minor: mnTicksMinor, black: a5Black, red: a5Red},
    {id: 'y6', max: 50, major: mnTicksMajor, minor: mnTicksMinor, black: a6Black, red: a6Red}
  ], 63, 15);
  makeChart('cb', [
    {id: 'y1', max: 240, major: niTicksMajor, minor: niTicksMinor, black: b1Black, red: b1Red},
    {id: 'y2', max: 130, major: sTicksMajor, minor: sTicksMinor, black: b2Black, red: b2Red},
    {id: 'y3', max: 3.5, major: twoSTicksMajor, minor: twoSTicksMinor, black: b3Black, red: b3Red},
    {id: 'y4', max: 0.5, major: twoCTicksMajor, minor: twoCTicksMinor, black: b4Black, red: b4Red},
    {id: 'y5', max: 3.5, major: allCTicksMajor, minor: allCTicksMinor, black: b5Black, red: b5Red},
    {id: 'y6', max: 51, major: allOTicksMajor, minor: allOTicksMinor, black: b6Black, red: b6Red}
  ], 64, 13);
}
if (document.fonts && document.fonts.load) {
  Promise.all([document.fonts.load("17px 'Liberation Serif'"), document.fonts.load("20px 'DejaVu Serif'")]).then(build, build);
} else { build(); }
</script>
</body></html>
